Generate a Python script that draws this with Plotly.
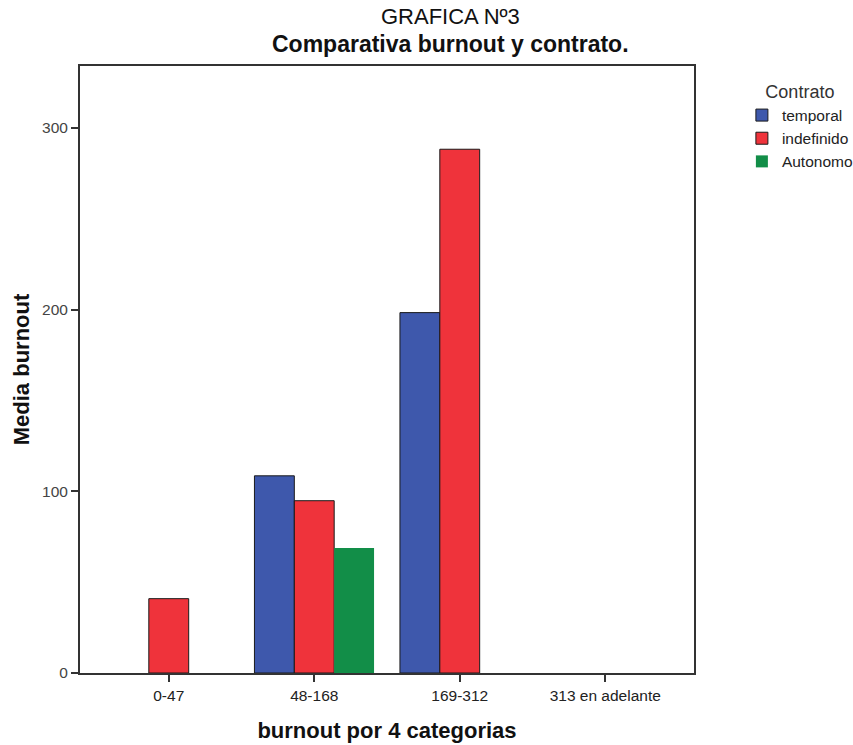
import plotly.graph_objects as go

categories = ["0-47", "48-168", "169-312", "313 en adelante"]
series_names = ["temporal", "indefinido", "Autonomo"]
temporal = [None, 108.5, 198.3, None]
indefinido = [40.9, 94.8, 288.2, None]
autonomo = [None, 68.8, None, None]
y_ticks = [0, 100, 200, 300]

colors = ["#3E58AC", "#EF333B", "#128E48"]
line_widths = [1, 1, 0]
values = [temporal, indefinido, autonomo]

FONT = "Liberation Sans, Arial, sans-serif"

fig = go.Figure()
for name, vals, col, lw in zip(series_names, values, colors, line_widths):
    fig.add_trace(go.Bar(
        x=categories, y=vals, name=name,
        marker=dict(color=col, line=dict(color="#1a1a1a", width=lw)),
    ))

fig.update_layout(
    width=853, height=745,
    margin=dict(l=80, r=159, t=66, b=72, autoexpand=False),
    paper_bgcolor="white", plot_bgcolor="white",
    barmode="group", bargap=0.178, bargroupgap=0,
    font=dict(family=FONT, size=15, color="#333333"),
    showlegend=True,
    legend=dict(
        x=1.078, y=0.985, xanchor="left", yanchor="top",
        title=dict(text="Contrato", font=dict(size=18, color="#333333"), side="top center"),
        font=dict(size=15.5, color="#222222"),
        itemwidth=30, tracegroupgap=0,
        bgcolor="rgba(0,0,0,0)",
    ),
    xaxis=dict(
        type="category", range=[-0.61, 3.61],
        showline=True, linecolor="#333333", linewidth=2, mirror=True,
        ticks="outside", ticklen=7, tickcolor="#333333", tickwidth=2,
        tickfont=dict(size=15.5, color="#222222"),
        title=dict(text="<b>burnout por 4 categorias</b>", font=dict(size=22, color="#111111"), standoff=20),
        showgrid=False,
    ),
    yaxis=dict(
        range=[0, 334], tickvals=y_ticks,
        showline=True, linecolor="#333333", linewidth=2, mirror=True,
        ticks="outside", ticklen=7, tickcolor="#333333", tickwidth=2,
        tickfont=dict(size=15.5, color="#444444"),
        title=dict(text="<b>Media burnout</b>", font=dict(size=22, color="#111111"), standoff=6),
        showgrid=False, zeroline=False,
    ),
    annotations=[
        dict(text="GRAFICA Nº3", x=0.603, y=1.0, xref="paper", yref="paper",
             xanchor="center", yanchor="bottom", yshift=35, showarrow=False,
             font=dict(size=22, color="#111111", family=FONT)),
        dict(text="<b>Comparativa burnout y contrato.</b>", x=0.603, y=1.0, xref="paper", yref="paper",
             xanchor="center", yanchor="bottom", yshift=7, showarrow=False,
             font=dict(size=23, color="#111111", family=FONT)),
    ],
)

fig.write_html("out.html")
